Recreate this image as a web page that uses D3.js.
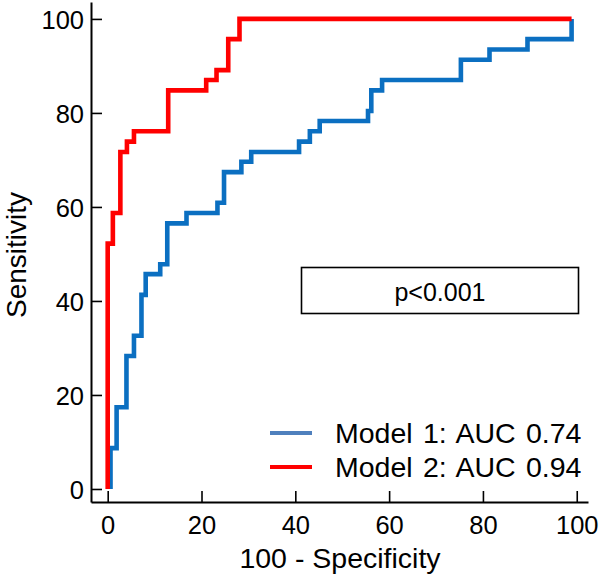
<!DOCTYPE html>
<html>
<head>
<meta charset="utf-8">
<script src="https://cdn.jsdelivr.net/npm/d3@7"></script>
<style>
  html, body { margin: 0; padding: 0; background: #fff; }
  svg { display: block; font-family: "Liberation Sans", Arial, sans-serif; }
</style>
</head>
<body>
<svg id="chart" width="600" height="579"></svg>
<script>
// ---- data ----
const xTicks = [0, 20, 40, 60, 80, 100];
const yTicks = [0, 20, 40, 60, 80, 100];

// Model 1 ROC corners: 100 - specificity, sensitivity
const model1FPR = [0.6, 0.6, 1.9, 4.0, 5.6, 7.2, 8.1, 11.2, 12.7, 16.8, 23.4, 24.8, 28.5, 30.6, 40.8, 43.1, 45.2, 55.5, 56.2, 58.5, 75.3, 81.4, 89.5, 98.9];
const model1TPR = [0, 8.7, 17.4, 28.3, 32.6, 41.3, 45.7, 47.8, 56.5, 58.7, 60.9, 67.4, 69.6, 71.7, 73.9, 76.1, 78.3, 80.4, 84.8, 87.0, 91.3, 93.5, 95.7, 100];

// Model 2 ROC corners
const model2FPR = [0, 0, 1.1, 2.7, 4.1, 5.6, 12.9, 21.0, 23.2, 25.7, 28.1, 98.9];
const model2TPR = [0, 52.2, 58.7, 71.7, 73.9, 76.1, 84.8, 87.0, 89.1, 95.7, 100, 100];

const seriesNames = ["Model 1: AUC 0.74", "Model 2: AUC 0.94"];
const pText = "p<0.001";
const xTitle = "100 - Specificity";
const yTitle = "Sensitivity";

// ---- layout ----
const svg = d3.select("#chart");
const x = d3.scaleLinear().domain([-3.56, 102.4]).range([91, 588]);
const y = d3.scaleLinear().domain([-2.77, 103.6]).range([502, 2]);

const colors = ["#0b6fc1", "#ff0000"];
const legendColors = ["#4f80bd", "#ff0000"];

// axes
const xAxis = d3.axisBottom(x).tickValues(xTicks).tickSizeInner(-11).tickSizeOuter(0).tickPadding(0);
const yAxis = d3.axisLeft(y).tickValues(yTicks).tickSizeInner(-11).tickSizeOuter(0).tickPadding(0);

const gx = svg.append("g").attr("transform", `translate(0,${y.range()[0]})`).call(xAxis);
const gy = svg.append("g").attr("transform", `translate(${x.range()[0]},0)`).call(yAxis);

[gx, gy].forEach(g => {
  g.select(".domain").attr("stroke", "#000").attr("stroke-width", 2);
  g.selectAll(".tick line").attr("stroke", "#000").attr("stroke-width", 1.6);
  g.selectAll(".tick text").attr("fill", "#000").attr("font-size", 25.5)
    .attr("font-family", '"Liberation Sans", Arial, sans-serif');
});
gx.selectAll(".tick text").attr("y", 31.5).attr("dy", 0);
gy.selectAll(".tick text").attr("x", -7).attr("dy", "0.36em");

// curves
const line = d3.line().x(d => x(d[0])).y(d => y(d[1])).curve(d3.curveStepAfter);
const series = [
  d3.zip(model1FPR, model1TPR),
  d3.zip(model2FPR, model2TPR)
];
series.forEach((pts, i) => {
  svg.append("path").datum(pts)
    .attr("d", line)
    .attr("fill", "none")
    .attr("stroke", colors[i])
    .attr("stroke-width", 4.6)
    .attr("stroke-linejoin", "miter")
    .attr("stroke-linecap", "butt");
});

// p-value box
svg.append("rect")
  .attr("x", 301.5).attr("y", 267.5).attr("width", 277).attr("height", 46)
  .attr("fill", "#fff").attr("stroke", "#000").attr("stroke-width", 1.6);
svg.append("text")
  .attr("x", 440).attr("y", 301).attr("text-anchor", "middle")
  .attr("font-size", 25).attr("fill", "#000").text(pText);

// legend
seriesNames.forEach((name, i) => {
  const ly = 433 + i * 34;
  svg.append("line")
    .attr("x1", 270).attr("x2", 312).attr("y1", ly).attr("y2", ly)
    .attr("stroke", legendColors[i]).attr("stroke-width", 4);
  svg.append("text")
    .attr("x", 335).attr("y", ly + 10)
    .attr("font-size", 28.5).attr("fill", "#000")
    .attr("word-spacing", 2.4)
    .text(name);
});

// axis titles
svg.append("text")
  .attr("x", 340).attr("y", 568).attr("text-anchor", "middle")
  .attr("font-size", 28.5).attr("fill", "#000").text(xTitle);
svg.append("text")
  .attr("transform", "translate(26,255) rotate(-90)")
  .attr("text-anchor", "middle")
  .attr("font-size", 28).attr("fill", "#000").text(yTitle);
</script>
</body>
</html>
